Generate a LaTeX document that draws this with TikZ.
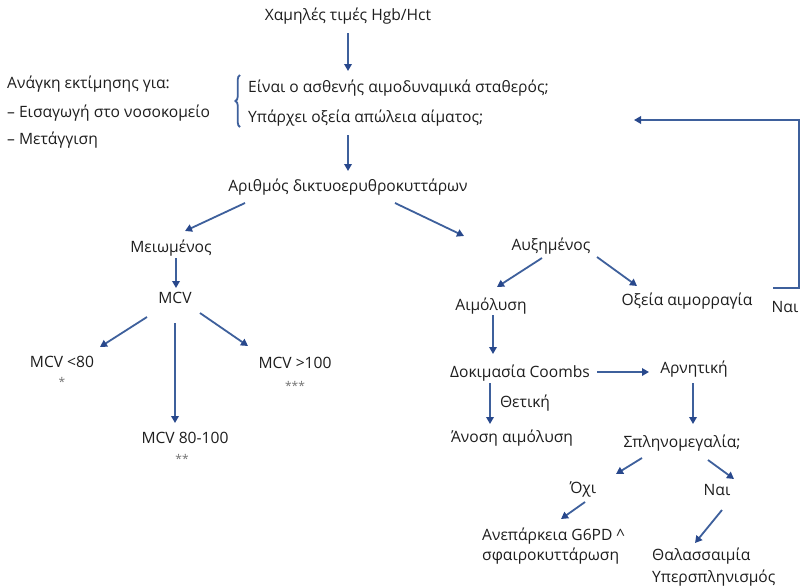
\documentclass[tikz,border=0pt]{standalone}
\usepackage{fontspec}
\setmainfont{Open Sans}
\usetikzlibrary{arrows.meta,decorations.pathreplacing}
\definecolor{flowblue}{RGB}{62,96,156}
\definecolor{tipblue}{RGB}{40,72,140}
\definecolor{txt}{RGB}{30,30,30}
\begin{document}
\begin{tikzpicture}[x=1pt,y=-1pt,
  lbl/.style={inner sep=0pt,anchor=base,text=txt,font=\fontsize{15.6}{18}\selectfont},
  lblw/.style={lbl,anchor=base west},
  starmark/.style={lbl,text=black!55,font=\fontsize{12}{14}\selectfont},
  arr/.style={draw=flowblue,line width=1.8pt,
    -{Triangle[length=7pt,width=7.5pt,color=tipblue]}}]
\useasboundingbox[fill=white] (0,0) rectangle (802,587);

% top of the chart
\node[lbl] (top) at (348,20) {Χαμηλές τιμές Hgb/Hct};
\node[lblw] (q1) at (248,92) {Είναι ο ασθενής αιμοδυναμικά σταθερός;};
\node[lblw] (q2) at (248,122) {Υπάρχει οξεία απώλεια αίματος;};
\node[lblw] (need) at (7,88) {Ανάγκη εκτίμησης για:};
\node[lblw] (adm) at (7,117) {– Εισαγωγή στο νοσοκομείο};
\node[lblw] (trans) at (7,144) {– Μετάγγιση};
\draw[flowblue,line width=1.8pt,decorate,decoration={brace,amplitude=4.5pt}]
  (240,127) -- (240,75);

\node[lbl] (rc) at (348,191) {Αριθμός δικτυοερυθροκυττάρων};

% left branch
\node[lbl] (dec) at (171,252) {Μειωμένος};
\node[lbl] (mcv) at (175,303) {MCV};
\node[lbl] (lo) at (62,367) {MCV <80};
\node[starmark] (lostar) at (62,386) {*};
\node[lbl] (hi) at (295,368) {MCV >100};
\node[starmark] (histar) at (295,390) {***};
\node[lbl] (mid) at (185,443) {MCV 80-100};
\node[starmark] (midstar) at (182,463) {**};

% right branch
\node[lbl] (inc) at (551,250) {Αυξημένος};
\node[lbl] (hem) at (491,310) {Αιμόλυση};
\node[lbl] (bleed) at (687,305) {Οξεία αιμορραγία};
\node[lbl] (yes1) at (785,312) {Ναι};
\node[lbl] (coombs) at (520,377) {Δοκιμασία Coombs};
\node[lbl] (neg) at (694,373) {Αρνητική};
\node[lbl] (pos) at (525,407) {Θετική};
\node[lbl] (immune) at (512,442) {Άνοση αιμόλυση};
\node[lbl] (spl) at (682,447) {Σπληνομεγαλία;};
\node[lbl] (no) at (583,493) {Όχι};
\node[lbl] (yes2) at (717,495) {Ναι};
\node[lblw] (g6a) at (482,540) {Ανεπάρκεια G6PD \^{}};
\node[lblw] (g6b) at (482,560) {σφαιροκυττάρωση};
\node[lblw] (thal) at (652,560) {Θαλασσαιμία};
\node[lblw] (hyper) at (652,582) {Υπερσπληνισμός};

% connectors
\draw[arr] ([shift={(0,13)}]top.base) -- ([shift={(100,-21)}]q1.base west);
\draw[arr] ([shift={(100,13)}]q2.base west) -- ([shift={(0,-20)}]rc.base);
\draw[arr] ([shift={(-103,12)}]rc.base) -- ([shift={(14,-21)}]dec.base);
\draw[arr] ([shift={(47,12)}]rc.base) -- ([shift={(-87,-14)}]inc.base);
\draw[arr] ([shift={(5,6)}]dec.base) -- ([shift={(1,-15)}]mcv.base);
\draw[arr] ([shift={(-28,14)}]mcv.base) -- ([shift={(38,-20)}]lo.base);
\draw[arr] ([shift={(25,10)}]mcv.base) -- ([shift={(-47,-22)}]hi.base);
\draw[arr] ([shift={(0,20)}]mcv.base) -- ([shift={(-10,-20)}]mid.base);
\draw[arr] ([shift={(-9,8)}]inc.base) -- ([shift={(6,-23)}]hem.base);
\draw[arr] ([shift={(46,7)}]inc.base) -- ([shift={(-50,-19)}]bleed.base);
\draw[arr] ([shift={(2,5)}]hem.base) -- ([shift={(-27,-23)}]coombs.base);
\draw[arr] ([shift={(77,-5)}]coombs.base) -- ([shift={(-45,-1)}]neg.base);
\draw[arr] ([shift={(-30,6)}]coombs.base) -- ([shift={(-22,-18)}]immune.base);
\draw[arr] ([shift={(-1,10)}]neg.base) -- ([shift={(11,-23)}]spl.base);
\draw[arr] ([shift={(-40,11)}]spl.base) -- ([shift={(33,-19)}]no.base);
\draw[arr] ([shift={(26,13)}]spl.base) -- ([shift={(17,-16)}]yes2.base);
\draw[arr] ([shift={(2,9)}]no.base) -- ([shift={(79,-21)}]g6a.base west);
\draw[arr] ([shift={(5,15)}]yes2.base) -- ([shift={(43,-17)}]thal.base west);
% feedback loop back to the bleeding question
\draw[arr] ([shift={(-12,-24)}]yes1.base) -- ++(26,0) -- ++(0,-168)
  -- ([shift={(386,-2)}]q2.base west);
\end{tikzpicture}
\end{document}
